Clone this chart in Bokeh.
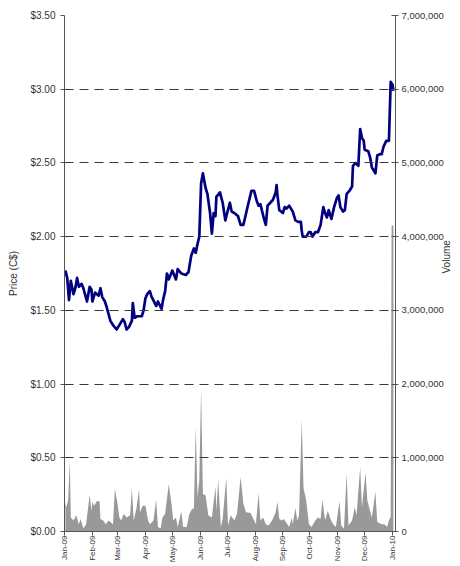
import pandas as pd
from bokeh.plotting import figure
from bokeh.models import Range1d, LinearAxis, FixedTicker, NumeralTickFormatter, DatetimeTickFormatter
from bokeh.embed import file_html
from bokeh.resources import INLINE
from math import pi

price_dates = [
    "2009-01-02", "2009-01-04", "2009-01-06", "2009-01-08", "2009-01-11", "2009-01-13", "2009-01-15",
    "2009-01-17", "2009-01-20", "2009-01-22", "2009-01-26", "2009-01-29", "2009-01-31", "2009-02-01",
    "2009-02-04", "2009-02-08", "2009-02-10", "2009-02-12", "2009-02-15", "2009-02-17", "2009-02-21",
    "2009-02-24", "2009-02-28", "2009-03-04", "2009-03-07", "2009-03-09", "2009-03-11", "2009-03-14",
    "2009-03-17", "2009-03-18", "2009-03-20", "2009-03-23", "2009-03-28", "2009-03-30", "2009-04-01",
    "2009-04-03", "2009-04-06", "2009-04-08", "2009-04-09", "2009-04-13", "2009-04-15", "2009-04-19",
    "2009-04-21", "2009-04-23", "2009-04-25", "2009-04-27", "2009-05-01", "2009-05-05", "2009-05-07",
    "2009-05-11", "2009-05-16", "2009-05-19", "2009-05-22", "2009-05-25", "2009-05-27", "2009-05-29",
    "2009-05-31", "2009-06-02", "2009-06-04", "2009-06-07", "2009-06-09", "2009-06-12", "2009-06-14",
    "2009-06-16", "2009-06-18", "2009-06-19", "2009-06-23", "2009-06-26", "2009-06-29", "2009-07-01",
    "2009-07-04", "2009-07-06", "2009-07-09", "2009-07-13", "2009-07-16", "2009-07-19", "2009-07-21",
    "2009-07-24", "2009-07-28", "2009-07-31", "2009-08-03", "2009-08-05", "2009-08-07", "2009-08-11",
    "2009-08-13", "2009-08-15", "2009-08-18", "2009-08-21", "2009-08-24", "2009-08-25", "2009-08-26",
    "2009-08-28", "2009-08-30", "2009-09-01", "2009-09-03", "2009-09-05", "2009-09-08", "2009-09-10",
    "2009-09-12", "2009-09-15", "2009-09-18", "2009-09-21", "2009-09-22", "2009-09-23", "2009-09-27",
    "2009-09-30", "2009-10-02", "2009-10-04", "2009-10-07", "2009-10-10", "2009-10-13", "2009-10-16",
    "2009-10-18", "2009-10-20", "2009-10-22", "2009-10-25", "2009-10-28", "2009-10-31", "2009-11-02",
    "2009-11-04", "2009-11-07", "2009-11-09", "2009-11-11", "2009-11-14", "2009-11-17", "2009-11-18",
    "2009-11-21", "2009-11-24", "2009-11-26", "2009-11-28", "2009-11-30", "2009-12-01", "2009-12-05",
    "2009-12-07", "2009-12-09", "2009-12-11", "2009-12-13", "2009-12-15", "2009-12-18", "2009-12-20",
    "2009-12-22", "2009-12-25", "2009-12-28", "2009-12-30", "2010-01-01", "2010-01-02",
]
price_values = [
    1.77, 1.72, 1.57, 1.70, 1.61, 1.65, 1.72,
    1.66, 1.68, 1.65, 1.56, 1.66, 1.64, 1.56,
    1.62, 1.60, 1.65, 1.59, 1.56, 1.52, 1.43,
    1.40, 1.37, 1.41, 1.44, 1.42, 1.37, 1.39,
    1.43, 1.55, 1.45, 1.46, 1.46, 1.50, 1.58,
    1.61, 1.63, 1.59, 1.58, 1.53, 1.56, 1.51,
    1.58, 1.63, 1.75, 1.71, 1.77, 1.71, 1.78,
    1.75, 1.74, 1.76, 1.87, 1.92, 1.89, 1.95,
    2.00, 2.36, 2.43, 2.33, 2.29, 2.16, 2.02,
    2.16, 2.14, 2.27, 2.30, 2.23, 2.11, 2.16,
    2.23, 2.17, 2.16, 2.14, 2.08, 2.08, 2.13,
    2.21, 2.31, 2.31, 2.24, 2.21, 2.22, 2.12,
    2.08, 2.21, 2.23, 2.25, 2.30, 2.35, 2.28,
    2.18, 2.17, 2.16, 2.20, 2.19, 2.21, 2.19,
    2.17, 2.11, 2.10, 2.10, 2.04, 2.00, 2.00,
    2.03, 2.03, 2.00, 2.03, 2.03, 2.08, 2.20,
    2.16, 2.13, 2.18, 2.12, 2.20, 2.26, 2.28,
    2.20, 2.17, 2.18, 2.29, 2.31, 2.34, 2.48,
    2.50, 2.48, 2.73, 2.67, 2.65, 2.59, 2.58,
    2.54, 2.47, 2.45, 2.43, 2.55, 2.56, 2.56,
    2.61, 2.65, 2.65, 3.05, 3.03, 2.99,
]

volume_dates = [
    "2009-01-02", "2009-01-03", "2009-01-05", "2009-01-07", "2009-01-08", "2009-01-11", "2009-01-14",
    "2009-01-17", "2009-01-19", "2009-01-22", "2009-01-25", "2009-01-29", "2009-01-31", "2009-02-01",
    "2009-02-03", "2009-02-06", "2009-02-09", "2009-02-10", "2009-02-13", "2009-02-16", "2009-02-19",
    "2009-02-21", "2009-02-24", "2009-02-26", "2009-03-01", "2009-03-03", "2009-03-05", "2009-03-08",
    "2009-03-11", "2009-03-15", "2009-03-17", "2009-03-19", "2009-03-22", "2009-03-25", "2009-03-26",
    "2009-03-29", "2009-04-01", "2009-04-04", "2009-04-06", "2009-04-10", "2009-04-13", "2009-04-15",
    "2009-04-18", "2009-04-20", "2009-04-23", "2009-04-27", "2009-04-30", "2009-05-02", "2009-05-05",
    "2009-05-07", "2009-05-11", "2009-05-13", "2009-05-17", "2009-05-20", "2009-05-23", "2009-05-25",
    "2009-05-27", "2009-05-29", "2009-05-31", "2009-06-02", "2009-06-04", "2009-06-07", "2009-06-10",
    "2009-06-14", "2009-06-18", "2009-06-19", "2009-06-21", "2009-06-24", "2009-06-26", "2009-06-30",
    "2009-07-02", "2009-07-05", "2009-07-09", "2009-07-12", "2009-07-16", "2009-07-19", "2009-07-22",
    "2009-07-27", "2009-07-31", "2009-08-02", "2009-08-05", "2009-08-07", "2009-08-10", "2009-08-13",
    "2009-08-16", "2009-08-20", "2009-08-24", "2009-08-26", "2009-08-28", "2009-08-31", "2009-09-02",
    "2009-09-06", "2009-09-08", "2009-09-11", "2009-09-12", "2009-09-15", "2009-09-17", "2009-09-19",
    "2009-09-22", "2009-09-24", "2009-09-27", "2009-09-30", "2009-10-03", "2009-10-07", "2009-10-10",
    "2009-10-13", "2009-10-15", "2009-10-18", "2009-10-21", "2009-10-24", "2009-10-27", "2009-10-30",
    "2009-11-03", "2009-11-05", "2009-11-08", "2009-11-11", "2009-11-13", "2009-11-17", "2009-11-20",
    "2009-11-22", "2009-11-26", "2009-11-28", "2009-12-02", "2009-12-04", "2009-12-07", "2009-12-09",
    "2009-12-13", "2009-12-15", "2009-12-20", "2009-12-23", "2009-12-26", "2009-12-28", "2009-12-30",
    "2009-12-31", "2010-01-02",
]
volume_values = [
    400000, 330000, 420000, 960000, 190000, 150000, 220000,
    100000, 170000, 40000, 100000, 500000, 280000, 400000,
    350000, 410000, 410000, 170000, 150000, 100000, 150000,
    130000, 100000, 580000, 380000, 190000, 150000, 240000,
    190000, 220000, 590000, 150000, 310000, 570000, 260000,
    350000, 350000, 150000, 100000, 150000, 430000, 60000,
    40000, 190000, 240000, 640000, 380000, 150000, 190000,
    60000, 270000, 60000, 60000, 240000, 310000, 310000,
    1420000, 470000, 690000, 1940000, 510000, 490000, 220000,
    190000, 610000, 280000, 710000, 60000, 170000, 730000,
    80000, 220000, 150000, 240000, 740000, 380000, 260000,
    250000, 150000, 100000, 520000, 150000, 190000, 100000,
    80000, 150000, 260000, 400000, 170000, 150000, 170000,
    100000, 60000, 190000, 100000, 320000, 150000, 220000,
    1520000, 590000, 420000, 100000, 60000, 150000, 190000,
    170000, 430000, 150000, 280000, 170000, 100000, 60000,
    410000, 80000, 40000, 790000, 80000, 150000, 330000,
    220000, 870000, 330000, 800000, 420000, 280000, 190000,
    540000, 130000, 100000, 100000, 60000, 150000, 200000,
    4150000, 4150000,
]

month_ticks = [
    "2009-01-01", "2009-02-01", "2009-03-01", "2009-04-01", "2009-05-01", "2009-06-01", "2009-07-01",
    "2009-08-01", "2009-09-01", "2009-10-01", "2009-11-01", "2009-12-01", "2010-01-01",
]
price_ticks = [0.0, 0.5, 1.0, 1.5, 2.0, 2.5, 3.0, 3.5]
volume_ticks = [0, 1000000, 2000000, 3000000, 4000000, 5000000, 6000000, 7000000]

FONT = "Liberation Sans"

px = pd.to_datetime(price_dates)
vx = pd.to_datetime(volume_dates)
tick_ms = [pd.Timestamp(d).value / 1e6 for d in month_ticks]

p = figure(
    width=460, height=566,
    x_axis_type="datetime",
    x_range=Range1d(pd.Timestamp("2009-01-01"), pd.Timestamp("2010-01-04 08:00")),
    y_range=Range1d(0, 3.5),
    output_backend="svg", toolbar_location=None,
    min_border_left=64, min_border_right=63, min_border_top=15, min_border_bottom=35,
)
p.outline_line_color = None
p.background_fill_color = "white"
p.border_fill_color = "white"

p.extra_y_ranges = {"vol": Range1d(0, 7000000)}

p.varea(x=vx, y1=0, y2=volume_values, y_range_name="vol", fill_color="#999999", fill_alpha=1.0)
p.line(px, price_values, line_color="#000080", line_width=2.7, line_join="round")

# grid
p.xgrid.visible = False
p.ygrid.ticker = FixedTicker(ticks=price_ticks)
p.ygrid.grid_line_color = "#3a3a3a"
p.ygrid.grid_line_dash = "9 6"
p.ygrid.grid_line_width = 1
p.ygrid.level = "overlay"

# left axis
ya = p.yaxis[0]
ya.ticker = FixedTicker(ticks=price_ticks)
ya.formatter = NumeralTickFormatter(format="$0.00")
ya.axis_label = "Price (C$)"

# right axis
ra = LinearAxis(y_range_name="vol", ticker=FixedTicker(ticks=volume_ticks),
                formatter=NumeralTickFormatter(format="0,0"), axis_label="Volume")
p.add_layout(ra, "right")

# x axis
xa = p.xaxis[0]
xa.ticker = FixedTicker(ticks=tick_ms)
fmt = "%b-%y"
xa.formatter = DatetimeTickFormatter(
    microseconds=fmt, milliseconds=fmt, seconds=fmt, minsec=fmt, minutes=fmt,
    hourmin=fmt, hours=fmt, days=fmt, months=fmt, years=fmt,
)
xa.major_label_orientation = pi / 2

for ax in [ya, ra, xa]:
    ax.axis_line_color = "#555555"
    ax.axis_line_width = 1
    ax.major_tick_line_color = "#555555"
    ax.major_tick_out = 4
    ax.major_tick_in = 0
    ax.minor_tick_line_color = None
    ax.major_label_text_font = FONT
    ax.major_label_text_font_size = "10px"
    ax.major_label_text_color = "#333333"
    ax.axis_label_text_font = FONT
    ax.axis_label_text_font_size = "10px"
    ax.axis_label_text_font_style = "normal"
    ax.axis_label_text_color = "#333333"

ya.major_label_standoff = 5
ya.axis_label_standoff = 8
ra.major_tick_in = 4
ra.major_tick_out = 3
ra.major_label_standoff = 3
ra.major_label_text_font_size = "9.5px"
ra.axis_label_standoff = 0
ra.axis_label_orientation = pi / 2
xa.major_label_standoff = 0
xa.major_label_text_font_size = "8px"

open("out.html", "w").write(file_html(p, INLINE))
